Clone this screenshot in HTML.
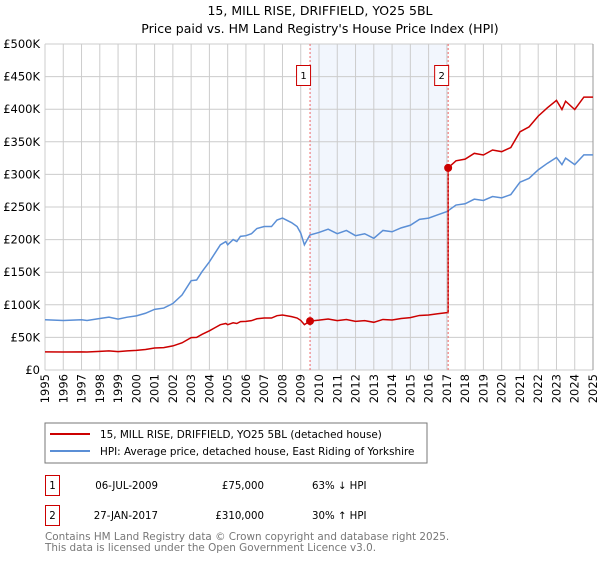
<!DOCTYPE html>
<html><head><meta charset="utf-8"><style>
body{margin:0;width:600px;height:560px;background:#fff;font-family:"DejaVu Sans","Liberation Sans",sans-serif;overflow:hidden}
svg text{font-family:"DejaVu Sans","Liberation Sans",sans-serif}
</style></head><body>
<svg id="c" width="600" height="560" xmlns="http://www.w3.org/2000/svg">
<text x="320" y="15" text-anchor="middle" font-size="12.5">15, MILL RISE, DRIFFIELD, YO25 5BL</text>
<text x="320" y="33" text-anchor="middle" font-size="12.5">Price paid vs. HM Land Registry's House Price Index (HPI)</text>
<g id="grid"></g><g id="marks"></g>
<rect x="45" y="423" width="382" height="40" fill="#fff" stroke="#777"/>
<line x1="50" y1="434" x2="90" y2="434" stroke="#cc0000" stroke-width="2"/>
<text x="100" y="438" font-size="10.4">15, MILL RISE, DRIFFIELD, YO25 5BL (detached house)</text>
<line x1="50" y1="451" x2="90" y2="451" stroke="#5b8fd6" stroke-width="2"/>
<text x="100" y="455" font-size="10.4">HPI: Average price, detached house, East Riding of Yorkshire</text>
<g font-size="10.2">
<rect x="45.5" y="475.5" width="14" height="20" fill="#fff" stroke="#cc0000"/>
<text x="52.5" y="489" text-anchor="middle">1</text>
<text x="158" y="489" text-anchor="end">06-JUL-2009</text>
<text x="264" y="489" text-anchor="end">£75,000</text>
<text x="312" y="489">63% ↓ HPI</text>
<rect x="45.5" y="505.5" width="14" height="20" fill="#fff" stroke="#cc0000"/>
<text x="52.5" y="519" text-anchor="middle">2</text>
<text x="158" y="519" text-anchor="end">27-JAN-2017</text>
<text x="264" y="519" text-anchor="end">£310,000</text>
<text x="312" y="519">30% ↑ HPI</text>
</g>
<text x="45" y="540" font-size="10.4" fill="#777">Contains HM Land Registry data © Crown copyright and database right 2025.</text>
<text x="45" y="551" font-size="10.4" fill="#777">This data is licensed under the Open Government Licence v3.0.</text>
</svg>
<script>
const hpiYears=[1995,1996,1997,1997.3,1998,1998.5,1999,1999.5,2000,2000.5,2001,2001.5,2002,2002.5,2003,2003.3,2003.6,2004,2004.3,2004.6,2004.9,2005,2005.3,2005.5,2005.7,2006,2006.3,2006.6,2007,2007.4,2007.7,2008,2008.5,2008.8,2009,2009.2,2009.5,2010,2010.5,2011,2011.5,2012,2012.5,2013,2013.5,2014,2014.5,2015,2015.5,2016,2016.5,2017,2017.5,2018,2018.5,2019,2019.5,2020,2020.5,2021,2021.5,2022,2022.5,2023,2023.3,2023.5,2024,2024.5,2025];
const hpiValues=[77,76,77,76,79,81,78,81,83,87,93,95,102,115,137,138,151,166,179,192,197,192,200,197,205,206,209,217,220,220,230,233,226,220,210,192,207,211,216,209,214,206,209,202,214,212,218,222,231,233,238,243,253,255,262,260,266,264,269,288,294,307,317,326,315,325,315,330,330];
const saleYears=[2009.51,2017.07];
const salePrices=[75000,310000];
const yTicks=[0,50000,100000,150000,200000,250000,300000,350000,400000,450000,500000];
const yTickLabels=["£0","£50K","£100K","£150K","£200K","£250K","£300K","£350K","£400K","£450K","£500K"];
const xTicks=[1995,1996,1997,1998,1999,2000,2001,2002,2003,2004,2005,2006,2007,2008,2009,2010,2011,2012,2013,2014,2015,2016,2017,2018,2019,2020,2021,2022,2023,2024,2025];

const NS="http://www.w3.org/2000/svg";
const X0=45,X1=593,Y0=370,Y1=44;
const x=t=>X0+(t-1995)/30*(X1-X0);
const y=v=>Y0-v/500000*(Y0-Y1);
function mk(tag,attrs,parent){const e=document.createElementNS(NS,tag);for(const k in attrs)e.setAttribute(k,attrs[k]);parent.appendChild(e);return e;}
const grid=document.getElementById('grid'),marks=document.getElementById('marks');
let sh=mk('rect',{x:x(saleYears[0]),y:Y1,width:x(saleYears[1])-x(saleYears[0]),height:Y0-Y1,fill:'#f2f6fd'},grid);


yTicks.forEach((v,i)=>{
  let l=mk('line',{x1:X0,x2:X1,y1:y(v),y2:y(v),stroke:'#ccc','stroke-width':1},grid);
  
  
  let t=mk('text',{x:40,y:y(v)+4,'text-anchor':'end','font-size':'11.5'},grid);
  t.textContent=yTickLabels[i];
  
  
});
xTicks.forEach(yr=>{
  let l=mk('line',{x1:x(yr),x2:x(yr),y1:Y1,y2:Y0,stroke:'#ccc','stroke-width':1},grid);
  
  
  let t=mk('text',{x:x(yr)+4,y:374,'text-anchor':'end','font-size':'11.5',transform:`rotate(-90 ${x(yr)+4} 374)`},grid);
  t.textContent=yr;
  
  
});
let edge=mk('line',{x1:X1,x2:X1,y1:Y1,y2:Y0,stroke:'#999','stroke-width':1},grid);


function hpiAt(t){for(let i=1;i<hpiYears.length;i++){if(t<=hpiYears[i]){const f=(t-hpiYears[i-1])/(hpiYears[i]-hpiYears[i-1]);return (hpiValues[i-1]+f*(hpiValues[i]-hpiValues[i-1]))*1000;}}return hpiValues[hpiValues.length-1]*1000;}
let hp=mk('polyline',{points:hpiYears.map((t,i)=>x(t)+','+y(hpiValues[i]*1000)).join(' '),fill:'none',stroke:'#5b8fd6','stroke-width':1.5},marks);


const r1=salePrices[0]/hpiAt(saleYears[0]),r2=salePrices[1]/hpiAt(saleYears[1]);
let pts=[];
hpiYears.forEach((t,i)=>{if(t<saleYears[1])pts.push([t,hpiValues[i]*1000*r1]);});
pts.push([saleYears[1],hpiAt(saleYears[1])*r1]);
pts.push([saleYears[1],salePrices[1]]);
hpiYears.forEach((t,i)=>{if(t>saleYears[1])pts.push([t,hpiValues[i]*1000*r2]);});
let pl=mk('polyline',{points:pts.map(p=>x(p[0])+','+y(p[1])).join(' '),fill:'none',stroke:'#cc0000','stroke-width':1.5},marks);


saleYears.forEach((t,i)=>{
  let d=mk('line',{x1:x(t),x2:x(t),y1:Y1,y2:Y0,stroke:'#e66','stroke-width':1,'stroke-dasharray':'2,2'},marks);
  
  
  let c=mk('circle',{cx:x(t),cy:y(salePrices[i]),r:4,fill:'#cc0000'},marks);
  
  
  let b=mk('rect',{x:x(t)-13.5,y:65.5,width:14,height:20,fill:'#fff',stroke:'#cc0000'},marks);
  
  
  let tx=mk('text',{x:x(t)-6.5,y:79,'text-anchor':'middle','font-size':'10'},marks);
  tx.textContent=String(i+1);
  
  
});
</script>
</body></html>
